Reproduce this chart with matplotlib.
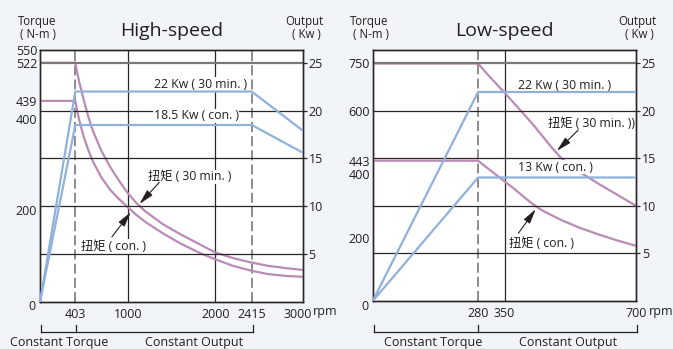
import matplotlib
matplotlib.use("Agg")
import matplotlib.pyplot as plt
from matplotlib.transforms import ScaledTranslation

FONT = ['Open Sans', 'Noto Sans CJK SC', 'DejaVu Sans']
plt.rcParams['font.family'] = FONT

# ---------------- data ----------------
# High-speed
hs_xticks = [403, 1000, 2000, 2415, 3000]
hs_torque_ticks = [550, 522, 439, 400, 200]
hs_kw_ticks = [5, 10, 15, 20, 25]
hs_t30_rpm = [0, 403, 425, 450, 500, 550, 600, 700, 800, 900, 1000, 1100, 1200, 1400,
              1600, 1800, 2000, 2200, 2415, 2600, 2800, 3000]
hs_t30_val = [522, 522, 500, 478, 440, 405, 375, 330, 295, 265, 238, 216, 198, 170,
              148, 128, 108, 96, 86, 79, 74, 70]
hs_tcon_rpm = [0, 403, 425, 450, 500, 550, 600, 700, 800, 900, 1000, 1100, 1200, 1400,
               1600, 1800, 2000, 2200, 2415, 2600, 2800, 3000]
hs_tcon_val = [439, 439, 416, 395, 360, 332, 308, 272, 245, 225, 207, 190, 175, 150,
               128, 109, 93, 79, 68, 61, 57, 55]
hs_p30_rpm = [0, 403, 2415, 3000]
hs_p30_val = [0, 22, 22, 17.9]
hs_pcon_rpm = [0, 403, 2415, 3000]
hs_pcon_val = [0, 18.5, 18.5, 15.6]

# Low-speed
ls_xticks = [280, 350, 700]
ls_torque_ticks = [750, 600, 443, 400, 200]
ls_kw_ticks = [5, 10, 15, 20, 25]
ls_t30_rpm = [0, 280, 300, 325, 350, 375, 400, 425, 450, 475, 500, 525, 550, 600, 650, 700]
ls_t30_val = [750, 750, 722, 690, 658, 625, 592, 558, 522, 485, 452, 428, 407, 370, 335, 300]
ls_tcon_rpm = [0, 280, 300, 325, 350, 375, 400, 425, 450, 500, 550, 600, 650, 700]
ls_tcon_val = [443, 443, 424, 401, 378, 355, 330, 306, 286, 256, 231, 210, 191, 174]
ls_p30_rpm = [0, 280, 700]
ls_p30_val = [0, 22, 22]
ls_pcon_rpm = [0, 280, 700]
ls_pcon_val = [0, 13, 13]

PINK = '#b98bb5'
BLUE = '#8fb1da'
GRID = '#2b2526'
GRAY = '#7d7878'
TXT = '#231f20'
BG = '#f1f5f9'

W, H = 673, 349
fig = plt.figure(figsize=(W / 100, H / 100), dpi=100)
fig.patch.set_facecolor(BG)


def fx(px):
    return px / W


def fy(py):
    return 1 - py / H


def make_panel(x0, x1, ytop, ybot, xmax, tmax, kwmax, xticks, tticks, kwticks,
               dashed, solid, title, t30, tcon, p30, pcon, texts, arrows, rpm_dx, last_shift):
    ax = fig.add_axes([fx(x0), fy(ybot), fx(x1 - x0), (ybot - ytop) / H])
    ax.set_facecolor('white')
    ax.set_xlim(0, xmax)
    ax.set_ylim(0, tmax)
    ax2 = ax.twinx()
    ax2.set_ylim(0, kwmax)
    for a in (ax, ax2):
        for s in a.spines.values():
            s.set_color(GRID)
            s.set_linewidth(1.0)
    # grid
    for k in kwticks:
        ax2.axhline(k, color=GRAY if k == 25 else GRID,
                    lw=1.6 if k == 25 else 0.9, zorder=1)
    for v in solid:
        ax.axvline(v, color=GRID, lw=0.9, zorder=1)
    for v in dashed:
        ax.axvline(v, color=GRAY, lw=1.2, ls=(0, (6, 2.5)), zorder=1)
    # lines
    ax.plot(t30[0], t30[1], color=PINK, lw=1.6, zorder=3)
    ax.plot(tcon[0], tcon[1], color=PINK, lw=1.6, zorder=3)
    ax2.plot(p30[0], p30[1], color=BLUE, lw=1.6, zorder=3)
    ax2.plot(pcon[0], pcon[1], color=BLUE, lw=1.6, zorder=3)
    # ticks
    ax.set_xticks(xticks)
    ax.set_xticklabels([str(v) for v in xticks], fontsize=9, color=TXT)
    ax.tick_params(axis='x', length=0, pad=4)
    ax.set_yticks(tticks)
    ax.set_yticklabels([str(v) for v in tticks], fontsize=9, color=TXT)
    ax.tick_params(axis='y', length=0, pad=2)
    ax2.set_yticks(kwticks)
    ax2.set_yticklabels([str(v) for v in kwticks], fontsize=9, color=TXT)
    ax2.tick_params(axis='y', length=3, width=0.9, color=GRID, pad=1)
    labs = ax.get_xticklabels()
    if last_shift:
        labs[-1].set_transform(labs[-1].get_transform() +
                               ScaledTranslation(last_shift / 100, 0, fig.dpi_scale_trans))
    # zero label and rpm
    fig.text(fx(x0 - 8), fy(307), '0', fontsize=9, ha='center', va='center', color=TXT)
    fig.text(fx(x1 + rpm_dx), fy(312), 'rpm', fontsize=9, ha='left', va='center', color=TXT)
    # title & axis names
    fig.text(fx((x0 + x1) / 2), fy(31), title, fontsize=14, ha='center', va='center', color=TXT)
    fig.text(fx(x0 - 3), fy(21.5), 'Torque', fontsize=8.3, ha='center', va='center', color=TXT)
    fig.text(fx(x0 - 2), fy(35), '( N-m )', fontsize=8.3, ha='center', va='center', color=TXT)
    fig.text(fx(x1 + 1), fy(21.5), 'Output', fontsize=8.3, ha='center', va='center', color=TXT)
    fig.text(fx(x1 + 3), fy(35), '( Kw )', fontsize=8.3, ha='center', va='center', color=TXT)
    # annotations
    for (xx, yy, s, which) in texts:
        a = ax2 if which == 'kw' else ax
        a.text(xx, yy, s, fontsize=8.8, ha='center', va='center', color=TXT, zorder=2,
               bbox=dict(facecolor='white', edgecolor='none', pad=0.6))
    for (tx, ty, hx, hy) in arrows:
        ax.annotate('', xy=(hx, hy), xytext=(tx, ty),
                    arrowprops=dict(arrowstyle='-|>,head_length=0.9,head_width=0.22',
                                    color=TXT, lw=0.8, shrinkA=0, shrinkB=0), zorder=4)
    return ax, ax2


# High-speed
make_panel(
    40, 303, 50, 302, 3000, 550, 550 * 25 / 522,
    hs_xticks, hs_torque_ticks, hs_kw_ticks,
    dashed=[403, 2415], solid=[1000, 2000], title='High-speed',
    t30=(hs_t30_rpm, hs_t30_val), tcon=(hs_tcon_rpm, hs_tcon_val),
    p30=(hs_p30_rpm, hs_p30_val), pcon=(hs_pcon_rpm, hs_pcon_val),
    texts=[(1830, 22.7, '22 Kw ( 30 min. )', 'kw'),
           (1780, 19.45, '18.5 Kw ( con. )', 'kw'),
           (1711, 273, '扭矩 ( 30 min. )', 't'),
           (833, 121, '扭矩 ( con. )', 't')],
    arrows=[(1360, 261, 1135, 214), (820, 142, 1035, 196)],
    rpm_dx=10, last_shift=-5)

# Low-speed
make_panel(
    372.7, 636.3, 50, 301, 700, 26.42 * 30, 26.42,
    ls_xticks, ls_torque_ticks, ls_kw_ticks,
    dashed=[280], solid=[350], title='Low-speed',
    t30=(ls_t30_rpm, ls_t30_val), tcon=(ls_tcon_rpm, ls_tcon_val),
    p30=(ls_p30_rpm, ls_p30_val), pcon=(ls_pcon_rpm, ls_pcon_val),
    texts=[(510, 22.7, '22 Kw ( 30 min. )', 'kw'),
           (484, 14.1, '13 Kw ( con. )', 'kw'),
           (580, 562, '扭矩 ( 30 min. ))', 't'),
           (447, 180, '扭矩 ( con. )', 't')],
    arrows=[(546, 540, 489, 474), (387, 214, 433, 290)],
    rpm_dx=13, last_shift=0)


def bracket(xa, xm, xb, lab1, c1, lab2, c2):
    y1, y2 = fy(325), fy(332)
    fig.add_artist(plt.Line2D([fx(xa), fx(xb)], [y2, y2], color=TXT, lw=0.9))
    for xv in (xa, xm, xb):
        fig.add_artist(plt.Line2D([fx(xv), fx(xv)], [y1, y2], color=TXT, lw=0.9))
    fig.text(fx(c1), fy(342.5), lab1, fontsize=9, ha='center', va='center', color=TXT)
    fig.text(fx(c2), fy(342.5), lab2, fontsize=9, ha='center', va='center', color=TXT)


bracket(40.5, 76, 252.7, 'Constant Torque', 59, 'Constant Output', 194)
bracket(374, 478.3, 636.7, 'Constant Torque', 433, 'Constant Output', 568)

fig.savefig('out.png', dpi=100, facecolor=BG)
